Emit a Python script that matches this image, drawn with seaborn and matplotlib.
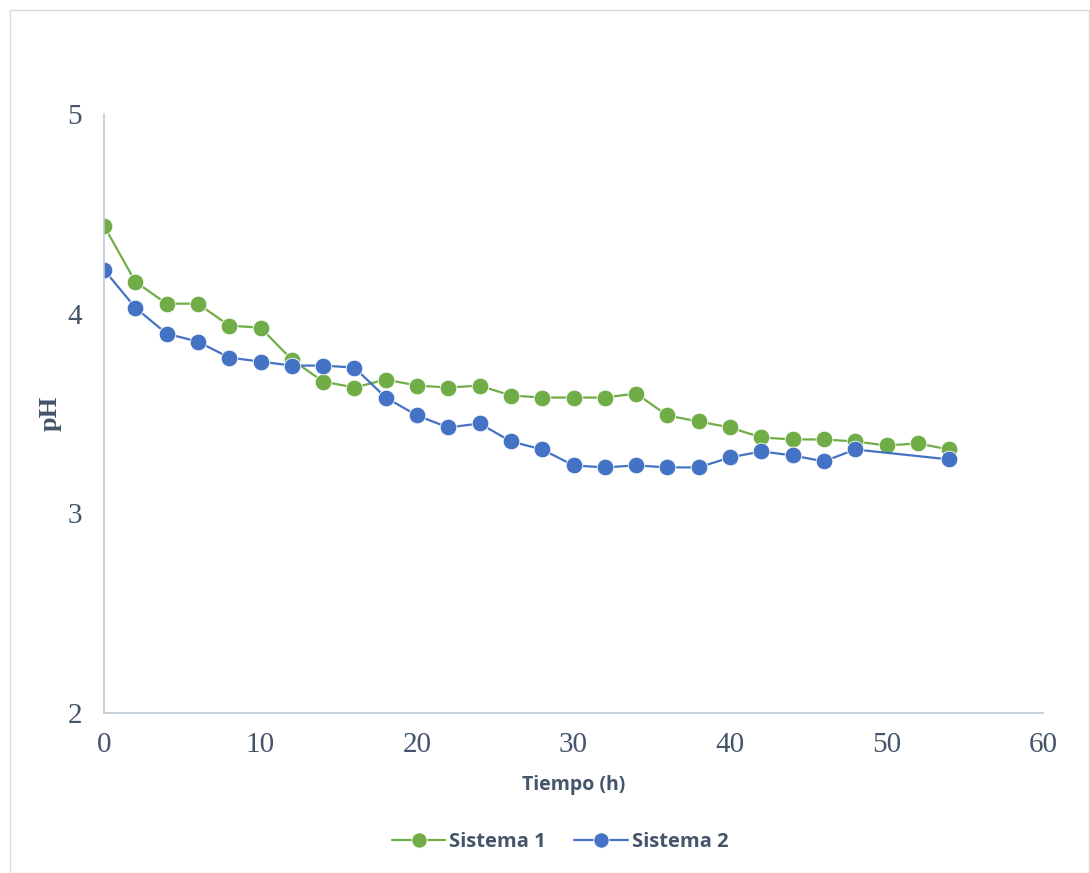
import matplotlib
matplotlib.use("Agg")
import matplotlib.pyplot as plt
from matplotlib.patches import Rectangle
from matplotlib.lines import Line2D
import seaborn as sns
import pandas as pd

tiempo1 = [0, 2, 4, 6, 8, 10, 12, 14, 16, 18, 20, 22, 24, 26, 28, 30, 32, 34, 36, 38, 40, 42, 44, 46, 48, 50, 52, 54]
ph1 = [4.44, 4.16, 4.05, 4.05, 3.94, 3.93, 3.77, 3.66, 3.63, 3.67, 3.64, 3.63, 3.64, 3.59, 3.58, 3.58,
       3.58, 3.60, 3.49, 3.46, 3.43, 3.38, 3.37, 3.37, 3.36, 3.34, 3.35, 3.32]
tiempo2 = [0, 2, 4, 6, 8, 10, 12, 14, 16, 18, 20, 22, 24, 26, 28, 30, 32, 34, 36, 38, 40, 42, 44, 46, 48, 54]
ph2 = [4.22, 4.03, 3.90, 3.86, 3.78, 3.76, 3.74, 3.74, 3.73, 3.58, 3.49, 3.43, 3.45, 3.36, 3.32, 3.24,
       3.23, 3.24, 3.23, 3.23, 3.28, 3.31, 3.29, 3.26, 3.32, 3.27]
series_names = ["Sistema 1", "Sistema 2"]
colors = ["#70AD47", "#4472C4"]
x_ticks = [0, 10, 20, 30, 40, 50, 60]
y_ticks = [2, 3, 4, 5]

df = pd.concat([
    pd.DataFrame({"t": tiempo1, "ph": ph1, "s": series_names[0]}),
    pd.DataFrame({"t": tiempo2, "ph": ph2, "s": series_names[1]}),
])

sns.set_style("white")
fig = plt.figure(figsize=(10.9, 8.73), dpi=100)
ax = fig.add_axes([104/1090, 1 - 713/873, (1043-104)/1090, (713-114)/873])

sns.lineplot(data=df, x="t", y="ph", hue="s", palette=colors, marker="o", markersize=12,
             linewidth=1.6, markeredgecolor="white", markeredgewidth=0.6, ax=ax, legend=False,
             sort=False, estimator=None)

ax.set_xlim(0, 60)
ax.set_ylim(2, 5)
ax.set_xticks(x_ticks)
ax.set_yticks(y_ticks)
tick_color = "#44546A"
for lab in ax.get_xticklabels() + ax.get_yticklabels():
    lab.set_family("Liberation Serif")
    lab.set_fontsize(21)
    lab.set_color(tick_color)
ax.tick_params(axis="x", length=0, pad=14)
ax.tick_params(axis="y", length=0, pad=16)
for sp in ["top", "right"]:
    ax.spines[sp].set_visible(False)
for sp in ["left", "bottom"]:
    ax.spines[sp].set_color("#BFC8D6")
    ax.spines[sp].set_linewidth(1.2)

ax.set_xlabel("Tiempo (h)", fontsize=14, fontweight="bold", family="Open Sans", color="#44546A", labelpad=12)
ax.set_ylabel("pH", fontsize=19, fontweight="bold", family="Liberation Serif", color="#44546A", labelpad=4)

handles = [Line2D([0], [0], color=c, marker="o", markersize=11, linewidth=1.6, markeredgecolor="white",
                  markeredgewidth=0.6) for c in colors]
leg = fig.legend(handles, series_names, loc="center", bbox_to_anchor=(560/1090, 1 - 842/873), ncol=2,
                 frameon=False, handlelength=2.65, columnspacing=1.4, handletextpad=0.2,
                 prop={"family": "Open Sans", "weight": "bold", "size": 14.5})
for t in leg.get_texts():
    t.set_color("#44546A")

fig.patches.append(Rectangle((10/1090, 0), 1 - 10/1090 - 0.001, 1 - 10/873, transform=fig.transFigure,
                             fill=False, edgecolor="#D9D9D9", linewidth=1))

fig.savefig("out.png", dpi=100)
